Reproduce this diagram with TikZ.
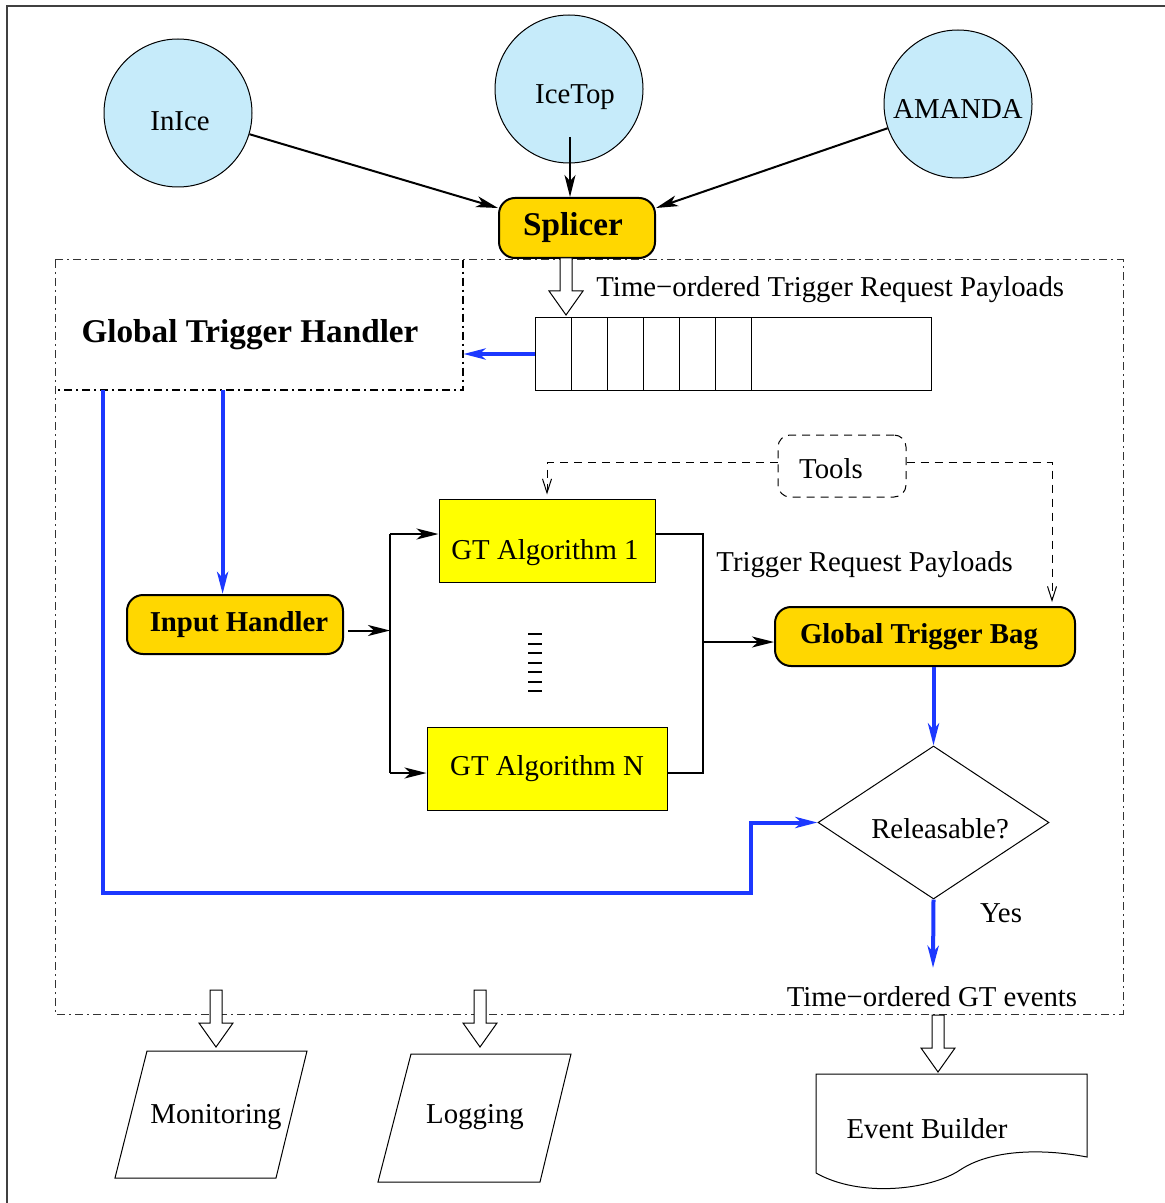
\documentclass[tikz,border=0pt]{standalone}
\usepackage{fontspec}
\setmainfont{Liberation Serif}
\usetikzlibrary{arrows.meta,shapes.geometric}
\definecolor{cblue}{RGB}{198,235,250}
\definecolor{cgold}{RGB}{255,215,0}
\definecolor{cyel}{RGB}{255,255,0}
\definecolor{bline}{RGB}{28,56,255}
\begin{document}
\begin{tikzpicture}[x=0.5pt,y=-0.5pt,
  txt/.style={font=\fontsize{14.4}{17}\selectfont, inner sep=0pt, yshift=-1.5pt},
  btxt/.style={font=\fontsize{14.4}{17}\selectfont\bfseries, inner sep=0pt, yshift=-1.5pt},
  bigtxt/.style={font=\fontsize{16.6}{20}\selectfont\bfseries, inner sep=0pt, yshift=-1.5pt},
  circ/.style={circle, draw, line width=0.5pt, fill=cblue, minimum size=74pt, inner sep=0pt},
  goldbox/.style={draw, rounded corners=8pt, line width=1pt, fill=cgold, inner sep=0pt},
  algbox/.style={draw, line width=0.5pt, fill=cyel, inner sep=0pt, minimum height=41.5pt},
  arr/.style={line width=1pt, -{Stealth[length=11pt,width=5.5pt,inset=3pt]}},
  blk/.style={line width=1pt},
  barr/.style={line width=2pt, draw=bline, -{Stealth[length=11pt,width=5.5pt,inset=3pt]}, color=bline},
  darr/.style={line width=0.5pt, dash pattern=on 4pt off 3pt, -{Straight Barb[length=7pt,width=4.5pt]}},
  dashdot/.style={line width=0.5pt, draw=black!80, dash pattern=on 4pt off 2pt on 1pt off 2pt},
  harrow/.pic={\draw[line width=0.5pt, fill=white] (-6,0) -- (-6,33) -- (-17,33) -- (0,57) -- (17,33) -- (6,33) -- (6,0) -- cycle;}
]
\useasboundingbox (0,0) rectangle (1164,1203);
% frame
\draw[line width=0.6pt, black!75] (7,1210) -- (7,6) -- (1170,6);

% outer dash-dot box
\draw[dashdot] (55,260) rectangle (1123,1014);
% Global Trigger Handler box
\node[minimum width=204pt, minimum height=65pt, inner sep=0pt] (gth) at (259,325) {};
\draw[line width=1pt, dash pattern=on 4pt off 2pt on 1pt off 2pt] (gth.north east) -- (gth.south east) -- (gth.south west);
\node[bigtxt] (gthtxt) at (250,332) {Global Trigger Handler};

% source circles
\node[circ] (inice) at (178,113) {};
\node[txt] (inicetxt) at (180,118) {InIce};
\node[circ] (icetop) at (569,89) {};
\node[txt] (icetoptxt) at (575,94) {IceTop};
\node[circ] (amanda) at (958,104) {};
\node[txt] (amandatxt) at (958,106) {AMANDA};

% Splicer
\node[goldbox, minimum width=78pt, minimum height=30pt] (splicer) at (577,228) {};
\node[bigtxt] (splicertxt) at (573,225) {Splicer};

\coordinate (itop) at ([xshift=0.5pt,yshift=-24pt]icetop.center);
\draw[arr] (inice) -- ([yshift=10pt]splicer.west);
\draw[arr] (itop) -- (itop |- splicer.north);
\draw[arr] (amanda) -- ([yshift=10pt]splicer.east);

% hollow arrow from splicer
\pic at (566,258) {harrow};
\node[txt, anchor=west] (tortxt) at (596,287) {Time\textminus ordered Trigger Request Payloads};

% queue
\node[draw, line width=0.5pt, minimum width=198pt, minimum height=36pt, inner sep=0pt] (queue) at (733,354) {};
\foreach \x in {571,607,643,679,715,751} \draw[line width=0.5pt] (\x,318) -- (\x,390);
\draw[barr] (queue.west) -- (queue.west -| gth.east);

% Tools
\node[draw, rounded corners=6pt, line width=0.5pt, dash pattern=on 4pt off 3pt, minimum width=64pt, minimum height=31pt, inner sep=0pt] (tools) at (842,466) {};
\node[txt] (toolstxt) at (831,466) {Tools};

% GT algorithms
\node[algbox, minimum width=108pt] (alg1) at (547,540.5) {};
\node[txt] (alg1txt) at (545,550) {GT Algorithm 1};
\node[algbox, minimum width=120pt] (algN) at (547,768.5) {};
\node[txt] (algNtxt) at (547,766) {GT Algorithm N};
\foreach \y in {634,643.5,653,662.5,672,681.5,691} \draw[line width=1pt] (528,\y) -- (542,\y);

% Input handler
\node[goldbox, minimum width=108pt, minimum height=29.5pt] (ih) at (235,624.5) {};
\node[btxt] (ihtxt) at (239,622) {Input Handler};

% Global Trigger Bag
\node[goldbox, minimum width=150pt, minimum height=29.5pt] (gtb) at (925,636.5) {};
\node[btxt] (gtbtxt) at (919,634) {Global Trigger Bag};
\node[txt, anchor=west] (trptxt) at (716,562) {Trigger Request Payloads};

% bus lines
\coordinate (bus1) at (390,534);
\coordinate (busN) at (390,773);
\coordinate (rbus1) at (703,534);
\coordinate (rbusN) at (703,773);
\coordinate (rmid) at (703,642);
\draw[arr, shorten <=2pt] ([yshift=-3pt]ih.east) -- ([yshift=-3pt]ih.east -| bus1);
\draw[blk] (bus1) -- (busN);
\draw[arr] (bus1) -- (bus1 -| alg1.west);
\draw[arr] (busN) -- (busN -| algN.west);
\draw[blk] (bus1 -| alg1.east) -- (rbus1) -- (rbusN) -- (busN -| algN.east);
\draw[arr] (rmid) -- (rmid -| gtb.west);

% tools dashed arrows
\coordinate (gtbT) at ([xshift=-12pt]gtb.north east);
\draw[darr, shorten >=2pt] ([yshift=2pt]tools.west) -| (alg1.north);
\draw[darr, shorten >=2pt] ([yshift=2pt]tools.east) -| (gtbT);

% Releasable diamond
\node[diamond, draw, line width=0.5pt, aspect=1.5, minimum width=115.5pt, minimum height=76.5pt, inner sep=0pt] (rel) at (933.5,822.5) {};
\node[txt] (reltxt) at (940,826) {Releasable?};
\draw[barr] (rel.north |- gtb.south) -- (rel.north);
\node[txt] (evtxt) at (932,994) {Time\textminus ordered GT events};
\coordinate (evtop) at (933,968);
\draw[barr] (rel.south) -- (evtop);
\node[txt] (yes) at (1001,910) {Yes};

% blue lines from GTH
\coordinate (b1) at ([xshift=24pt]gth.south west);
\coordinate (b2) at ([xshift=84pt]gth.south west);
\coordinate (bend) at (751,893);
\draw[barr] (b2) -- (b2 |- ih.north);
\draw[barr] (b1) |- (bend) |- (rel.west);

% outputs
\pic at (216,990) {harrow};
\pic at (480,990) {harrow};
\pic at (938,1015) {harrow};

\draw[line width=0.5pt] (147,1051) -- (307,1051) -- (276,1178) -- (115,1178) -- cycle;
\node[txt] (montxt) at (216,1114) {Monitoring};
\draw[line width=0.5pt] (411,1054) -- (571,1054) -- (540,1182) -- (378,1182) -- cycle;
\node[txt] (logtxt) at (475,1114) {Logging};
\draw[line width=0.5pt] (816,1173) -- (816,1074) -- (1087,1074) -- (1087,1157)
  .. controls (1040,1148) and (990,1150) .. (960,1170)
  .. controls (930,1190) and (860,1198) .. (816,1173);
\node[txt] (ebtxt) at (927,1126) {Event Builder};
\end{tikzpicture}
\end{document}
